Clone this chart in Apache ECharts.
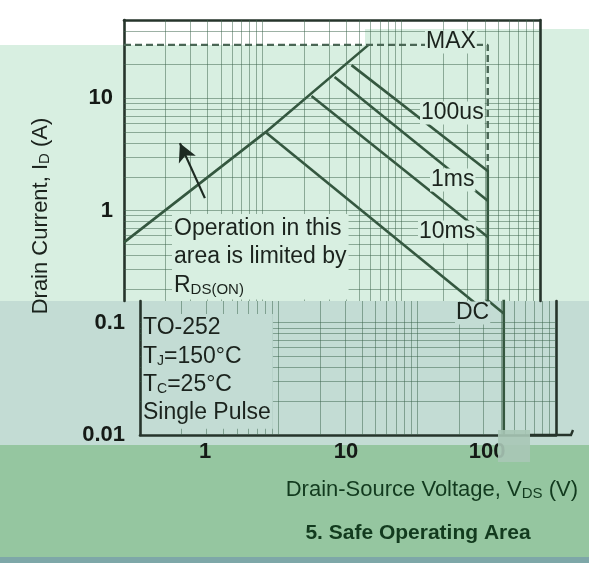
<!DOCTYPE html>
<html><head><meta charset="utf-8">
<script src="https://cdn.jsdelivr.net/npm/echarts@6/dist/echarts.min.js"></script>
<style>html,body{margin:0;padding:0;background:#fff}#c{width:589px;height:563px}</style>
</head><body><div id="c"></div>
<script>
// ---- tick labels ----
const xTickValues = [1, 10, 100];
const xTickLabels = ['1', '10', '100'];
const yTickValues = [0.01, 0.1, 1, 10];
const yTickLabels = ['0.01', '0.1', '1', '10'];
// ---- grid line values ----
const xGridValues = [0.2,0.3,0.4,0.5,0.6,0.7,0.8,0.9,1,2,3,4,5,6,7,8,9,10,20,30,40,50,60,70,80,90];
const yGridUpper = [0.2,0.3,0.4,0.5,0.6,0.7,0.8,0.9,1,2,3,4,5,6,7,8,9,10,20,40];
const yGridLower = [0.02,0.03,0.04,0.05,0.06,0.07,0.08,0.09,0.1];
// ---- curves [V_DS (V), I_D (A)] ----
const rdsLimit   = [[0.1,0.52],[1.05,5.0],[5.8,30]];
const maxCurrent = [[0.1,30],[42,30],[42,2.3]];
const bvLimit    = [[42,2.3],[42,0.01]];
const pulse100us = [[4.37,19.8],[42,2.25]];
const pulse1ms   = [[3.3,15.5],[42,1.22]];
const pulse10ms  = [[2.25,10.5],[42,0.58]];
const dcLimit    = [[1.05,5.0],[42,0.121]];
const arrowPts   = [[0.383,1.29],[0.253,3.99]];

const FONT = '"Liberation Sans", Arial, sans-serif';
const curveColor = '#34573f';
const borderColor = '#26342b';
const gridColor = 'rgba(60,100,75,0.5)';
const lightGreen = '#d8efe1';
const lowerBand = '#c3dcd4';

function pick(values, labels) {
  return function (v) {
    for (let i = 0; i < values.length; i++) {
      if (Math.abs(Math.log10(v) - Math.log10(values[i])) < 1e-4) return labels[i];
    }
    return '';
  };
}
function gridMarks(xs, ys) {
  return xs.map(v => ({xAxis: v})).concat(ys.map(v => ({yAxis: v})));
}
const border = {show: true, onZero: false, lineStyle: {color: borderColor, width: 2.6}};
const noAxisBits = {axisTick: {show: false}, splitLine: {show: false}, minorTick: {show: false}};

const chart = echarts.init(document.getElementById('c'));
chart.setOption({
  animation: false,
  backgroundColor: '#ffffff',
  grid: [
    {left: 124, top: 20, width: 416, height: 281},
    {left: 140, top: 301, width: 416, height: 134}
  ],
  xAxis: [
    Object.assign({type: 'log', gridIndex: 0, min: 0.1, max: 100, position: 'top', axisLine: border, axisLabel: {show: false}}, noAxisBits),
    Object.assign({type: 'log', gridIndex: 1, min: 0.1, max: 100, position: 'bottom', axisLine: border, axisLabel: {show: false}}, noAxisBits),
    Object.assign({type: 'log', gridIndex: 1, min: 0.346, max: 308, position: 'bottom', axisLine: {show: false},
      axisLabel: {show: true, margin: 6, fontFamily: FONT, fontSize: 22, fontWeight: 'bold', color: '#151a16',
        showMinLabel: false, showMaxLabel: false, formatter: pick(xTickValues, xTickLabels)}}, noAxisBits)
  ],
  yAxis: [
    Object.assign({type: 'log', gridIndex: 0, min: 0.156, max: 50, position: 'left', axisLine: border,
      axisLabel: {show: true, margin: 11, fontFamily: FONT, fontSize: 22, fontWeight: 'bold', color: '#151a16',
        showMinLabel: false, showMaxLabel: false, formatter: pick(yTickValues, yTickLabels)}}, noAxisBits),
    Object.assign({type: 'log', gridIndex: 0, min: 0.156, max: 50, position: 'right', axisLine: border, axisLabel: {show: false}}, noAxisBits),
    Object.assign({type: 'log', gridIndex: 1, min: 0.01, max: 0.156, position: 'left', axisLine: border,
      axisLabel: {show: true, margin: 15, fontFamily: FONT, fontSize: 22, fontWeight: 'bold', color: '#151a16',
        showMaxLabel: false, formatter: pick(yTickValues, yTickLabels)}}, noAxisBits),
    Object.assign({type: 'log', gridIndex: 1, min: 0.01, max: 0.156, position: 'right', axisLine: border, axisLabel: {show: false}}, noAxisBits)
  ],
  series: [
    // grid lines upper
    {type: 'line', xAxisIndex: 0, yAxisIndex: 0, data: dcLimit, symbol: 'none', silent: true, z: 1,
      lineStyle: {opacity: 0},
      markLine: {silent: true, symbol: 'none', animation: false, label: {show: false},
        lineStyle: {color: gridColor, width: 1, type: 'solid'}, emphasis: {disabled: true},
        data: gridMarks(xGridValues, yGridUpper)}},
    // grid lines lower
    {type: 'line', xAxisIndex: 1, yAxisIndex: 2, data: dcLimit, symbol: 'none', silent: true, z: 1,
      lineStyle: {opacity: 0},
      markLine: {silent: true, symbol: 'none', animation: false, label: {show: false},
        lineStyle: {color: gridColor, width: 1, type: 'solid'}, emphasis: {disabled: true},
        data: gridMarks(xGridValues, yGridLower)}},
    // arrow
    {type: 'line', xAxisIndex: 0, yAxisIndex: 0, data: arrowPts, symbol: 'none', silent: true, z: 4,
      lineStyle: {opacity: 0},
      markLine: {silent: true, symbol: ['none', 'arrow'], symbolSize: [14, 18], animation: false, label: {show: false},
        lineStyle: {color: '#1d2a22', width: 2.2, type: 'solid'}, emphasis: {disabled: true},
        data: [[{coord: arrowPts[0]}, {coord: arrowPts[1]}]]}},
    {name: 'RDS(ON)', type: 'line', xAxisIndex: 0, yAxisIndex: 0, data: rdsLimit, symbol: 'none', z: 3,
      lineStyle: {color: curveColor, width: 2.6}},
    {name: 'MAX', type: 'line', xAxisIndex: 0, yAxisIndex: 0, data: maxCurrent, symbol: 'none', z: 3,
      lineStyle: {color: '#4a6655', width: 2.4, type: [7, 4]}},
    {name: 'BVDSS', type: 'line', xAxisIndex: 0, yAxisIndex: 0, data: bvLimit, symbol: 'none', z: 3,
      lineStyle: {color: curveColor, width: 2.6}},
    {name: '100us', type: 'line', xAxisIndex: 0, yAxisIndex: 0, data: pulse100us, symbol: 'none', z: 3,
      lineStyle: {color: curveColor, width: 2.6}},
    {name: '1ms', type: 'line', xAxisIndex: 0, yAxisIndex: 0, data: pulse1ms, symbol: 'none', z: 3,
      lineStyle: {color: curveColor, width: 2.6}},
    {name: '10ms', type: 'line', xAxisIndex: 0, yAxisIndex: 0, data: pulse10ms, symbol: 'none', z: 3,
      lineStyle: {color: curveColor, width: 2.6}},
    {name: 'DC', type: 'line', xAxisIndex: 0, yAxisIndex: 0, data: dcLimit, symbol: 'none', z: 3,
      lineStyle: {color: curveColor, width: 2.6}},
    {name: 'DC lower', type: 'line', xAxisIndex: 1, yAxisIndex: 2, data: dcLimit, symbol: 'none', z: 3,
      lineStyle: {color: curveColor, width: 2.6}},
    {name: 'BVDSS lower', type: 'line', xAxisIndex: 1, yAxisIndex: 2, data: bvLimit, symbol: 'none', z: 3,
      lineStyle: {color: curveColor, width: 2.6}}
  ],
  graphic: [
    // backgrounds
    {type: 'rect', z: -10, silent: true, shape: {x: 0, y: 45, width: 589, height: 256}, style: {fill: lightGreen}},
    {type: 'rect', z: -10, silent: true, shape: {x: 365, y: 29, width: 224, height: 16}, style: {fill: lightGreen}},
    {type: 'rect', z: -10, silent: true, shape: {x: 0, y: 301, width: 589, height: 144}, style: {fill: lowerBand}},
    {type: 'rect', z: -10, silent: true, shape: {x: 0, y: 445, width: 589, height: 112}, style: {fill: '#95c6a0'}},
    {type: 'rect', z: -10, silent: true, shape: {x: 0, y: 557, width: 589, height: 6}, style: {fill: '#7ea7a8'}},
    // curve labels
    {type: 'text', z: 50, x: 425, y: 42, style: {text: 'MAX', font: '23px ' + FONT, fill: '#1b231d', verticalAlign: 'middle', backgroundColor: lightGreen, padding: [0, 1]}},
    {type: 'text', z: 50, x: 420, y: 113, style: {text: '100us', font: '23px ' + FONT, fill: '#1b231d', verticalAlign: 'middle', backgroundColor: lightGreen, padding: [0, 1]}},
    {type: 'text', z: 50, x: 430, y: 180, style: {text: '1ms', font: '23px ' + FONT, fill: '#1b231d', verticalAlign: 'middle', backgroundColor: lightGreen, padding: [0, 1]}},
    {type: 'text', z: 50, x: 418, y: 232, style: {text: '10ms', font: '23px ' + FONT, fill: '#1b231d', verticalAlign: 'middle', backgroundColor: lightGreen, padding: [0, 1]}},
    {type: 'text', z: 50, x: 455, y: 313, style: {text: 'DC', font: '23px ' + FONT, fill: '#1b231d', verticalAlign: 'middle', backgroundColor: lowerBand, padding: [0, 1]}},
    // annotation
    {type: 'text', z: 50, x: 172, y: 214, style: {
      text: 'Operation in this\narea is limited by\n{r|R}{s|DS(ON)}',
      font: '23px ' + FONT, fill: '#1b231d', lineHeight: 28.5, backgroundColor: lightGreen, padding: [0, 2],
      rich: {r: {fontSize: 23, fontFamily: FONT, fill: '#1b231d', lineHeight: 28.5},
             s: {fontSize: 15, fontFamily: FONT, fill: '#1b231d', padding: [10, 0, 0, 0]}}}},
    {type: 'text', z: 50, x: 142, y: 314, style: {
      text: 'TO-252\n{n|T}{s|J}{n|=150°C}\n{n|T}{s|C}{n|=25°C}\nSingle Pulse',
      font: '23px ' + FONT, fill: '#1b231d', lineHeight: 28.2, backgroundColor: lowerBand, padding: [0, 2, 2, 1],
      rich: {n: {fontSize: 23, fontFamily: FONT, fill: '#1b231d', lineHeight: 28.2},
             s: {fontSize: 14, fontFamily: FONT, fill: '#1b231d', padding: [9, 0, 0, 0]}}}},
    // axis titles
    {type: 'text', z: 50, x: 41, y: 216, rotation: Math.PI / 2, style: {
      text: '{n|Drain Current, I}{s|D}{n| (A)}', align: 'center', verticalAlign: 'middle', fill: '#1b231d',
      rich: {n: {fontSize: 22, fontFamily: FONT, fill: '#1b231d'},
             s: {fontSize: 15, fontFamily: FONT, fill: '#1b231d', padding: [8, 0, 0, 0]}}}},
    {type: 'text', z: 50, x: 578, y: 490, style: {
      text: '{n|Drain-Source Voltage, V}{s|DS}{n| (V)}', align: 'right', verticalAlign: 'middle', fill: '#123a1e',
      rich: {n: {fontSize: 22, fontFamily: FONT, fill: '#123a1e'},
             s: {fontSize: 15, fontFamily: FONT, fill: '#123a1e', padding: [8, 0, 0, 0]}}}},
    {type: 'text', z: 50, x: 418, y: 533, style: {text: '5. Safe Operating Area', font: 'bold 21px ' + FONT, fill: '#123a1e', align: 'center', verticalAlign: 'middle'}},
    // scan artefacts
    {type: 'rect', z: 60, silent: true, shape: {x: 498, y: 430, width: 32, height: 32}, style: {fill: '#a9c6b6', opacity: 0.9}},
    {type: 'polyline', z: 60, silent: true, shape: {points: [[530, 435], [571, 435], [573, 430]]}, style: {stroke: borderColor, lineWidth: 2.4, fill: null}}
  ]
});
</script></body></html>
